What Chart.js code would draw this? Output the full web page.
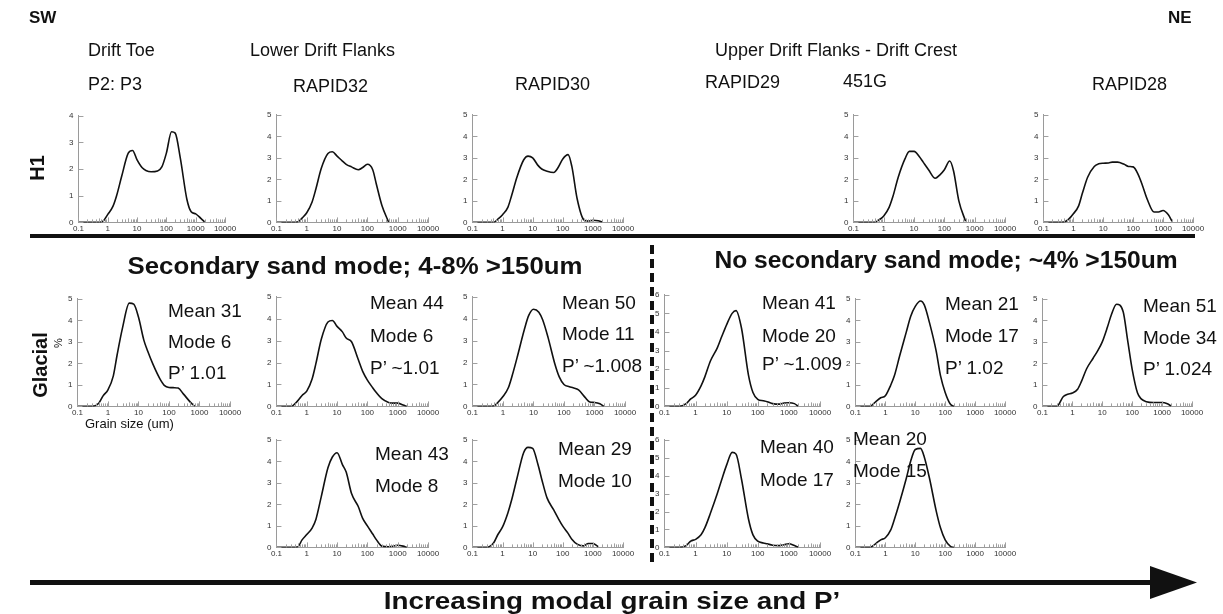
<!DOCTYPE html>
<html>
<head>
<meta charset="utf-8">
<script src="https://cdn.jsdelivr.net/npm/chart.js@4.4.0/dist/chart.umd.min.js"></script>
<style>
  html, body { margin: 0; padding: 0; background: #fff; }
  #stage { position: relative; width: 1223px; height: 614px; overflow: hidden;
           font-family: "Liberation Sans", Arial, Helvetica, sans-serif; color: #111; }
  .t { position: absolute; white-space: nowrap; line-height: 1; }
  .panel { position: absolute; }
  svg { position: absolute; left: 0; top: 0; pointer-events: none; }
</style>
</head>
<body>
<div id="stage"></div>
<script>
// grain size classes (um), shared by every curve
const grainSize = [0.1, 0.3, 0.5, 0.7, 1, 1.5, 2, 3, 5, 7, 10, 15, 20, 30, 50, 70, 100, 150, 200, 300, 500, 700, 1000, 1500, 2000];
const xTicks = [0.1, 1, 10, 100, 1000, 10000];

// H1 (volume %)
const h1P2P3    = [0, 0, 0, 0.05, 0.3, 0.6, 1.0, 1.74, 2.6, 2.7, 2.35, 2.05, 1.95, 1.9, 1.93, 2.08, 2.6, 3.4, 3.35, 2.4, 0.87, 0.4, 0.32, 0.15, 0.02];
const h1Rapid32 = [0, 0, 0.02, 0.2, 0.45, 0.95, 1.55, 2.5, 3.2, 3.28, 3.08, 2.85, 2.7, 2.58, 2.45, 2.55, 2.7, 2.45, 1.75, 0.8, 0.02, null, null, null, null];
const h1Rapid30 = [0, 0, 0, 0.15, 0.36, 0.7, 1.25, 2.1, 2.9, 3.08, 3.0, 2.65, 2.48, 2.38, 2.32, 2.55, 2.95, 3.15, 2.6, 1.1, 0.12, 0.06, 0.1, 0.08, 0.02];
const h1Site451G = [0, 0, 0, 0.12, 0.3, 0.7, 1.2, 2.1, 2.95, 3.3, 3.3, 3.05, 2.8, 2.45, 2.05, 2.2, 2.45, 2.85, 2.4, 1.0, 0.05, null, null, null, null];
const h1Rapid28 = [0, 0, 0.02, 0.15, 0.4, 0.77, 1.35, 2.1, 2.6, 2.72, 2.75, 2.76, 2.8, 2.8, 2.7, 2.6, 2.58, 2.2, 1.75, 1.05, 0.48, 0.48, 0.55, 0.35, 0.05];

// Glacial (volume %)
const glP2P3    = [0, 0, 0.15, 0.5, 0.77, 1.42, 2.4, 3.65, 4.8, 4.75, 4.15, 3.08, 2.57, 1.95, 1.29, 0.98, 0.88, 0.87, 0.85, 0.57, 0.2, 0, null, null, null];
const glRapid32 = [0, 0, 0.25, 0.5, 0.7, 1.25, 1.95, 3.05, 3.85, 3.92, 3.65, 3.4, 3.12, 2.95, 2.14, 1.6, 1.2, 0.85, 0.62, 0.35, 0.18, 0.15, 0.15, 0.06, 0];
const glRapid30 = [0, 0, 0.02, 0.2, 0.45, 0.85, 1.4, 2.3, 3.5, 4.15, 4.43, 4.3, 3.95, 3.15, 1.95, 1.35, 1.0, 0.9, 0.85, 0.75, 0.4, 0.2, 0.18, 0.12, 0];
const glRapid29 = [0, 0, 0.15, 0.4, 0.6, 1.1, 1.6, 2.44, 3.15, 3.77, 4.4, 5.0, 5.15, 4.2, 1.7, 0.75, 0.38, 0.3, 0.25, 0.15, 0.12, 0.18, 0.2, 0.15, 0];
const glSite451G = [0, 0, 0.25, 0.4, 0.5, 0.98, 1.42, 2.34, 3.45, 4.18, 4.65, 4.9, 4.72, 3.88, 2.57, 1.42, 0.65, 0.1, 0, null, null, null, null, null, null];
const glRapid28 = [0, 0, 0.46, 0.57, 0.62, 0.8, 1.15, 1.75, 2.25, 2.58, 3.0, 3.7, 4.25, 4.75, 4.4, 3.1, 1.72, 0.63, 0.35, 0.22, 0.18, 0.18, 0.18, 0.12, 0.02];

// Glacial, second samples
const gl2Rapid32 = [0, 0, 0.02, 0.35, 0.6, 0.9, 1.3, 2.35, 3.7, 4.2, 4.4, 3.85, 3.5, 2.5, 1.9, 1.35, 1.0, 0.62, 0.35, 0.06, 0.03, 0.05, 0.1, 0.06, 0];
const gl2Rapid30 = [0, 0, 0.2, 0.6, 0.95, 1.6, 2.2, 3.2, 4.4, 4.65, 4.6, 3.85, 3.17, 2.3, 1.74, 1.36, 0.99, 0.65, 0.38, 0.15, 0.07, 0.18, 0.18, 0.03, null];
const gl2Rapid29 = [0, 0, 0.1, 0.35, 0.45, 0.7, 1.1, 1.9, 3.0, 3.8, 4.6, 5.3, 5.2, 3.8, 1.6, 0.7, 0.35, 0.25, 0.2, 0.12, 0.1, 0.15, 0.2, 0.1, 0];
const gl2Site451G = [0, 0, 0.2, 0.35, 0.45, 0.8, 1.3, 2.1, 3.2, 4.0, 4.55, 4.6, 4.2, 3.2, 1.7, 0.9, 0.35, 0.05, 0, null, null, null, null, null, null];

// where each plot area sits on the page: left, top (y max), right, bottom (y = 0)
const panels = [
  { data: h1P2P3,     ymax: 4, L: 78,   T: 116, R: 225,  B: 223 },
  { data: h1Rapid32,  ymax: 5, L: 276,  T: 115, R: 428,  B: 223 },
  { data: h1Rapid30,  ymax: 5, L: 472,  T: 115, R: 623,  B: 223 },
  { data: h1Site451G, ymax: 5, L: 853,  T: 115, R: 1005, B: 223 },
  { data: h1Rapid28,  ymax: 5, L: 1043, T: 115, R: 1193, B: 223 },
  { data: glP2P3,     ymax: 5, L: 77,   T: 299, R: 230,  B: 407 },
  { data: glRapid32,  ymax: 5, L: 276,  T: 297, R: 428,  B: 407 },
  { data: glRapid30,  ymax: 5, L: 472,  T: 297, R: 625,  B: 407 },
  { data: glRapid29,  ymax: 6, L: 664,  T: 295, R: 820,  B: 407 },
  { data: glSite451G, ymax: 5, L: 855,  T: 299, R: 1005, B: 407 },
  { data: glRapid28,  ymax: 5, L: 1042, T: 299, R: 1192, B: 407 },
  { data: gl2Rapid32, ymax: 5, L: 276,  T: 440, R: 428,  B: 548 },
  { data: gl2Rapid30, ymax: 5, L: 472,  T: 440, R: 623,  B: 548 },
  { data: gl2Rapid29, ymax: 6, L: 664,  T: 440, R: 820,  B: 548 },
  { data: gl2Site451G, ymax: 5, L: 855, T: 440, R: 1005, B: 548 }
];

const stage = document.getElementById('stage');

// small tick marks drawn inwards, like the original plots
const innerTicks = {
  id: 'innerTicks',
  afterDraw(chart) {
    const { ctx, chartArea, scales } = chart;
    const x = scales.x, y = scales.y;
    ctx.save();
    ctx.strokeStyle = '#a0a0a0';
    ctx.lineWidth = 1;
    ctx.beginPath();
    xTicks.forEach(d => {
      for (let m = 1; m < 10; m++) {
        const v = d * m;
        if (v > 10000) break;
        const px = Math.round(x.getPixelForValue(v)) + 0.5;
        const len = m === 1 ? 5 : (m === 5 ? 4 : 3);
        ctx.moveTo(px, chartArea.bottom);
        ctx.lineTo(px, chartArea.bottom - len);
      }
    });
    y.ticks.forEach(t => {
      const py = Math.round(y.getPixelForValue(t.value)) + 0.5;
      ctx.moveTo(chartArea.left, py);
      ctx.lineTo(chartArea.left + 5, py);
    });
    ctx.stroke();
    ctx.restore();
  }
};

function config(p) {
  return {
    type: 'line',
    data: {
      labels: grainSize,
      datasets: [{
        data: p.data,
        borderColor: '#111',
        borderWidth: 1.6,
        pointRadius: 0,
        cubicInterpolationMode: 'monotone',
        spanGaps: false
      }]
    },
    options: {
      responsive: false,
      animation: false,
      devicePixelRatio: 1,
      layout: { padding: { top: 6, right: 16, left: 4, bottom: 0 } },
      plugins: { legend: { display: false }, tooltip: { enabled: false } },
      scales: {
        x: {
          type: 'logarithmic', min: 0.1, max: 10000,
          afterBuildTicks: s => { s.ticks = xTicks.map(v => ({ value: v })); },
          grid: { display: false, drawTicks: false },
          border: { display: true, color: '#9a9a9a', width: 1 },
          ticks: {
            autoSkip: false, maxRotation: 0, padding: 2, color: '#333',
            font: { size: 8, family: '"Liberation Sans", Arial, sans-serif' },
            callback: v => (v < 1 ? '0.1' : String(v))
          }
        },
        y: {
          min: 0, max: p.ymax,
          grid: { display: false, drawTicks: false },
          border: { display: true, color: '#9a9a9a', width: 1 },
          ticks: {
            stepSize: 1, padding: 5, color: '#333',
            font: { size: 8, family: '"Liberation Sans", Arial, sans-serif' }
          }
        }
      }
    },
    plugins: [innerTicks]
  };
}

panels.forEach(p => {
  const box = document.createElement('div');
  box.className = 'panel';
  const cv = document.createElement('canvas');
  cv.width = p.R - p.L + 40;
  cv.height = p.B - p.T + 24;
  box.appendChild(cv);
  stage.appendChild(box);
  let chart = new Chart(cv, config(p));
  // resize so the plot area lands exactly on the target box
  const ca = chart.chartArea;
  const w = chart.width + (p.R - p.L) - (ca.right - ca.left);
  const h = chart.height + (p.B - p.T) - (ca.bottom - ca.top);
  chart.destroy();
  cv.width = Math.round(w);
  cv.height = Math.round(h);
  chart = new Chart(cv, config(p));
  box.style.left = (p.L - chart.chartArea.left) + 'px';
  box.style.top = (p.T - chart.chartArea.top) + 'px';
});

// lines and the arrow
const svgNS = 'http://www.w3.org/2000/svg';
const svg = document.createElementNS(svgNS, 'svg');
svg.setAttribute('width', 1223);
svg.setAttribute('height', 614);
svg.innerHTML =
  '<rect x="30" y="234" width="1165" height="4" fill="#111"/>' +
  '<line x1="652" y1="245" x2="652" y2="566" stroke="#111" stroke-width="4" stroke-dasharray="9 5"/>' +
  '<rect x="30" y="580" width="1125" height="5" fill="#111"/>' +
  '<polygon points="1150,566 1197,582.5 1150,599" fill="#111"/>';
stage.appendChild(svg);

// text; o.w stretches the text horizontally to a given width
function txt(s, x, y, o) {
  o = o || {};
  const d = document.createElement('div');
  d.className = 't';
  d.textContent = s;
  d.style.fontSize = (o.size || 18) + 'px';
  if (o.bold) d.style.fontWeight = 'bold';
  stage.appendChild(d);
  let sx = 1;
  if (o.w) sx = o.w / d.offsetWidth;
  d.style.left = x + 'px';
  d.style.top = y + 'px';
  let tf = o.center ? 'translate(-50%,-50%)' : 'translate(0,-50%)';
  if (o.rot) tf += ' rotate(' + o.rot + 'deg)';
  if (sx !== 1) tf += ' scaleX(' + sx.toFixed(3) + ')';
  d.style.transform = tf;
  if (!o.center && sx !== 1) d.style.transformOrigin = 'left center';
}

txt('SW', 29, 17, { size: 17, bold: true });
txt('NE', 1168, 17, { size: 17, bold: true });
txt('Drift Toe', 88, 50, { size: 18 });
txt('Lower Drift Flanks', 250, 50, { size: 18 });
txt('Upper Drift Flanks - Drift Crest', 715, 50, { size: 18 });
txt('P2: P3', 88, 84, { size: 18 });
txt('RAPID32', 293, 86, { size: 18 });
txt('RAPID30', 515, 84, { size: 18 });
txt('RAPID29', 705, 82, { size: 18 });
txt('451G', 843, 81, { size: 18 });
txt('RAPID28', 1092, 84, { size: 18 });

txt('H1', 37, 168, { size: 20, bold: true, center: true, rot: -90 });
txt('Glacial', 40, 365, { size: 20, bold: true, center: true, rot: -90 });
txt('%', 58, 343, { size: 11, center: true, rot: -90 });
txt('Grain size (um)', 85, 423, { size: 13 });

txt('Secondary sand mode; 4-8% >150um', 355, 266, { size: 23, bold: true, center: true, w: 455 });
txt('No secondary sand mode; ~4% >150um', 946, 260, { size: 23, bold: true, center: true, w: 463 });
txt('Increasing modal grain size and P\u2019', 612, 601, { size: 24, bold: true, center: true, w: 456 });

// summary statistics next to each curve
const notes = [
  { x: 168,  y: [310, 341, 372], lines: ['Mean 31', 'Mode 6', 'P\u2019 1.01'] },
  { x: 370,  y: [302, 335, 367], lines: ['Mean 44', 'Mode 6', 'P\u2019 ~1.01'] },
  { x: 562,  y: [302, 333, 365], lines: ['Mean 50', 'Mode 11', 'P\u2019 ~1.008'] },
  { x: 762,  y: [302, 335, 363], lines: ['Mean 41', 'Mode 20', 'P\u2019 ~1.009'] },
  { x: 945,  y: [303, 335, 367], lines: ['Mean 21', 'Mode 17', 'P\u2019 1.02'] },
  { x: 1143, y: [305, 337, 368], lines: ['Mean 51', 'Mode 34', 'P\u2019 1.024'] },
  { x: 375,  y: [453, 485], lines: ['Mean 43', 'Mode 8'] },
  { x: 558,  y: [448, 480], lines: ['Mean 29', 'Mode 10'] },
  { x: 760,  y: [446, 479], lines: ['Mean 40', 'Mode 17'] },
  { x: 853,  y: [438, 470], lines: ['Mean 20', 'Mode 15'] }
];
notes.forEach(n => n.lines.forEach((s, i) => txt(s, n.x, n.y[i], { size: 19 })));
</script>
</body>
</html>
